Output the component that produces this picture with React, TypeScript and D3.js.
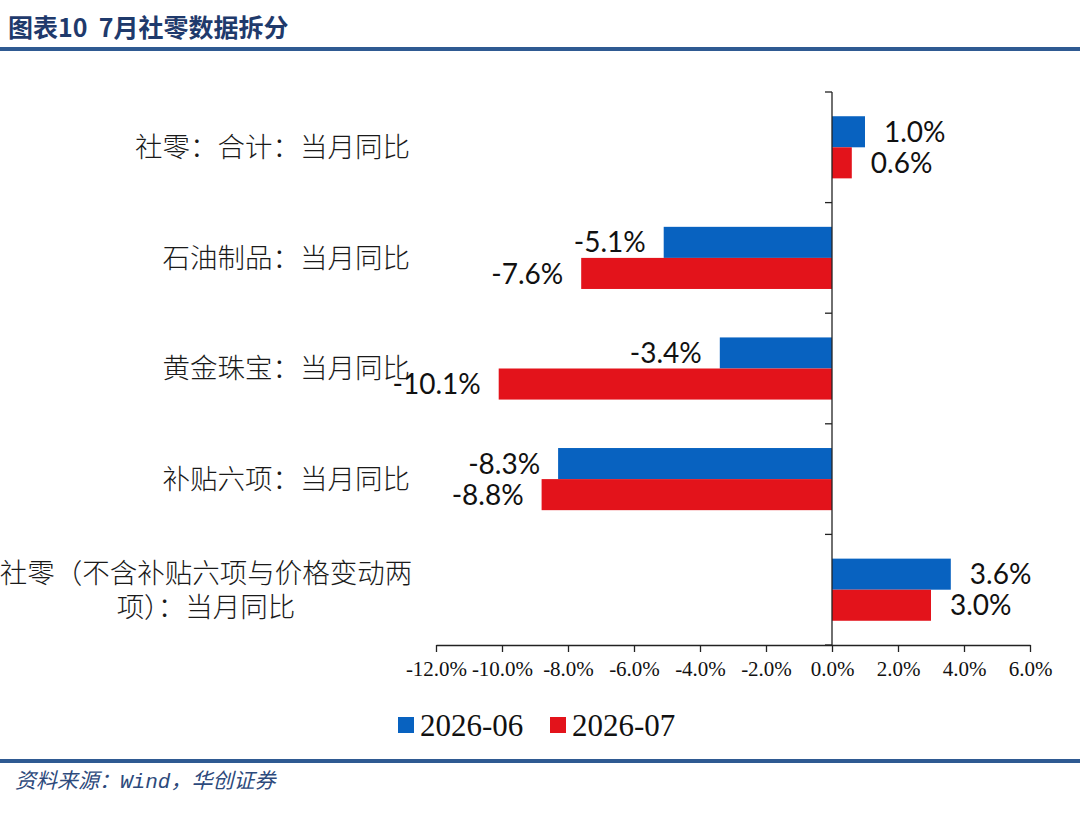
import React, { useEffect, useRef } from 'react';
import * as d3 from 'd3';

// categories, top to bottom
const categories = [
  '社零：合计：当月同比',
  '石油制品：当月同比',
  '黄金珠宝：当月同比',
  '补贴六项：当月同比',
  '社零（不含补贴六项与价格变动两项）：当月同比',
];
const wrappedLabel: Record<string, string[]> = {
  '社零（不含补贴六项与价格变动两项）：当月同比': ['社零（不含补贴六项与价格变动两', '项）：当月同比'],
};

const seriesNames = ['2026-06', '2026-07'];
const values202606 = [1.0, -5.1, -3.4, -8.3, 3.6];
const values202607 = [0.6, -7.6, -10.1, -8.8, 3.0];
const seriesValues = [values202606, values202607];

const xTicks = [-12, -10, -8, -6, -4, -2, 0, 2, 4, 6];

const title = '图表10  7月社零数据拆分';
const sourceParts = ['资料来源：', 'Wind', '，华创证券'];

const colors = ['#0862c0', '#e3131b'];

const App: React.FC = () => {
  const svgRef = useRef<SVGSVGElement>(null);

  useEffect(() => {
    if (!svgRef.current) return;
    const W = 1080;
    const H = 813;
    d3.select(svgRef.current).selectAll('*').remove();

    const svg = d3.select(svgRef.current)
      .attr('width', W)
      .attr('height', H);

    svg.append('rect').attr('width', W).attr('height', H).attr('fill', '#fff');

    // header
    svg.append('text')
      .attr('x', 8)
      .attr('y', 37)
      .attr('fill', '#1f3a6c')
      .style('font-family', '"Noto Sans CJK SC", sans-serif')
      .style('font-weight', 700)
      .style('font-size', '25px')
      .style('white-space', 'pre')
      .text(title);

    svg.append('rect').attr('x', 0).attr('y', 47).attr('width', W).attr('height', 4).attr('fill', '#2f5a92');
    svg.append('rect').attr('x', 0).attr('y', 759).attr('width', W).attr('height', 4).attr('fill', '#2f5a92');

    const src = svg.append('text')
      .attr('x', 15)
      .attr('y', 788)
      .attr('fill', '#2d4a7c')
      .style('font-style', 'italic')
      .style('font-size', '21px');
    src.append('tspan').style('font-family', '"Noto Sans CJK SC", sans-serif').text(sourceParts[0]);
    src.append('tspan').style('font-family', '"Liberation Mono", monospace').text(sourceParts[1]);
    src.append('tspan').style('font-family', '"Noto Sans CJK SC", sans-serif').text(sourceParts[2]);

    const plot = { left: 436, right: 1030, top: 92, bottom: 645 };

    const x = d3.scaleLinear()
      .domain([xTicks[0], xTicks[xTicks.length - 1]])
      .range([plot.left, plot.right]);

    const y0 = d3.scaleBand<string>()
      .domain(categories)
      .range([plot.top, plot.bottom])
      .padding(0);

    const y1 = d3.scaleBand<string>()
      .domain(seriesNames)
      .range([0, y0.bandwidth()])
      .paddingInner(0)
      .paddingOuter(0.78);

    // bars
    const rows = categories.map((c, i) => ({
      cat: c,
      items: seriesNames.map((s, j) => ({ s, j, v: seriesValues[j][i] })),
    }));

    const groups = svg.selectAll('g.cat')
      .data(rows)
      .join('g')
      .attr('class', 'cat')
      .attr('transform', d => `translate(0,${y0(d.cat)})`);

    groups.selectAll('rect')
      .data(d => d.items)
      .join('rect')
      .attr('x', d => Math.min(x(0), x(d.v)))
      .attr('y', d => y1(d.s)!)
      .attr('width', d => Math.abs(x(d.v) - x(0)))
      .attr('height', y1.bandwidth())
      .attr('fill', d => colors[d.j]);

    groups.selectAll('text.val')
      .data(d => d.items)
      .join('text')
      .attr('class', 'val')
      .attr('x', d => (d.v >= 0 ? x(d.v) + 19 : x(d.v) - 18))
      .attr('y', d => y1(d.s)! + y1.bandwidth() / 2)
      .attr('dy', '0.36em')
      .attr('text-anchor', d => (d.v >= 0 ? 'start' : 'end'))
      .attr('fill', '#111')
      .style('font-family', 'Lato, "Open Sans", sans-serif')
      .style('font-size', '28px')
      .text(d => `${d.v.toFixed(1)}%`);

    // x axis
    const xAxis = svg.append('g')
      .attr('transform', `translate(0,${plot.bottom})`)
      .call(
        d3.axisBottom(x)
          .tickValues(xTicks)
          .tickSize(7)
          .tickPadding(9)
          .tickSizeOuter(0)
          .tickFormat(d => `${(d as number).toFixed(1)}%`)
      );
    xAxis.select('.domain').attr('stroke', '#222').attr('stroke-width', 1.3);
    xAxis.selectAll('.tick line').attr('stroke', '#222').attr('stroke-width', 1.3);
    xAxis.selectAll('.tick text')
      .attr('fill', '#111')
      .style('font-family', '"Liberation Serif", "Times New Roman", serif')
      .style('font-size', '21px');

    // y axis at zero, ticks on band boundaries
    const yAxisG = svg.append('g').attr('transform', `translate(${x(0)},0)`);
    yAxisG.append('line')
      .attr('x1', 0).attr('x2', 0)
      .attr('y1', plot.top).attr('y2', plot.bottom)
      .attr('stroke', '#222').attr('stroke-width', 1.3);
    const bounds = categories.map(c => y0(c)!).concat([plot.bottom]);
    yAxisG.selectAll('line.tk')
      .data(bounds)
      .join('line')
      .attr('class', 'tk')
      .attr('x1', -7).attr('x2', 0)
      .attr('y1', d => d).attr('y2', d => d)
      .attr('stroke', '#222').attr('stroke-width', 1.3);

    // category labels
    categories.forEach(c => {
      const cy = y0(c)! + y0.bandwidth() / 2;
      const lines = wrappedLabel[c];
      const t = svg.append('text')
        .attr('fill', '#1a1a1a')
        .style('font-family', '"Noto Sans CJK SC", sans-serif')
        .style('font-weight', 300)
        .style('font-size', '27.5px');
      if (lines) {
        t.attr('text-anchor', 'middle');
        lines.forEach((ln, k) => {
          t.append('tspan')
            .attr('x', 206)
            .attr('y', cy + (k - (lines.length - 1) / 2) * 34)
            .attr('dy', '0.36em')
            .text(ln);
        });
      } else {
        t.attr('x', 410)
          .attr('y', cy)
          .attr('dy', '0.36em')
          .attr('text-anchor', 'end')
          .text(c);
      }
    });

    // legend
    const legend = svg.append('g').attr('transform', 'translate(398,725)');
    let lx = 0;
    seriesNames.forEach((s, i) => {
      const item = legend.append('g').attr('transform', `translate(${lx},0)`);
      item.append('rect')
        .attr('x', 0).attr('y', -8)
        .attr('width', 16).attr('height', 16)
        .attr('fill', colors[i]);
      item.append('text')
        .attr('x', 22)
        .attr('y', 0)
        .attr('dy', '0.35em')
        .attr('fill', '#111')
        .style('font-family', '"Liberation Serif", "Times New Roman", serif')
        .style('font-size', '31px')
        .text(s);
      lx += 152;
    });
  }, []);

  return <svg ref={svgRef} style={{ position: 'absolute', left: 0, top: 0, display: 'block' }} />;
};

export default App;
